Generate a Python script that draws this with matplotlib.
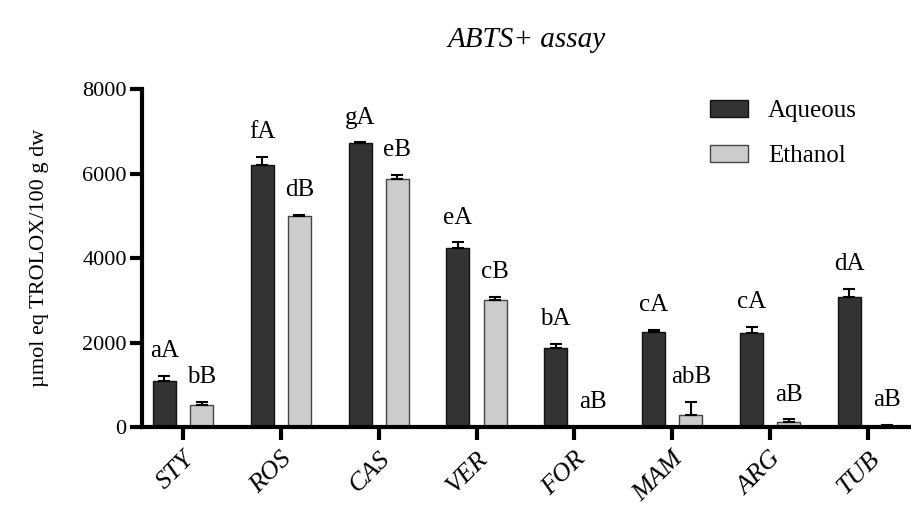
import matplotlib
matplotlib.use("Agg")
import matplotlib.pyplot as plt
import numpy as np

categories = ["STY", "ROS", "CAS", "VER", "FOR", "MAM", "ARG", "TUB"]
aqueous = [1100, 6200, 6720, 4250, 1860, 2240, 2220, 3080]
aqueous_err = [110, 200, 20, 120, 100, 60, 150, 190]
ethanol = [530, 5000, 5870, 3000, 0, 280, 120, 30]
ethanol_err = [65, 30, 100, 80, 0, 320, 60, 20]
aq_letters = ["aA", "fA", "gA", "eA", "bA", "cA", "cA", "dA"]
et_letters = ["bB", "dB", "eB", "cB", "aB", "abB", "aB", "aB"]
yticks = [0, 2000, 4000, 6000, 8000]

plt.rcParams['font.family'] = ['Liberation Serif', 'DejaVu Serif']

fig = plt.figure(figsize=(9.12, 5.11), dpi=100)
ax = fig.add_axes([0.1557, 0.1644, 0.8443, 0.661])

x = np.arange(len(categories))
w = 0.235
off = 0.19
ekw = dict(ecolor="black", elinewidth=1.5, capsize=4, capthick=1.5)
ax.bar(x - off, aqueous, w, color="#333333", edgecolor="#111111", linewidth=1.0,
       yerr=[np.zeros(len(x)), aqueous_err], error_kw=ekw, label="Aqueous", zorder=2)
ax.bar(x + off, ethanol, w, color="#cccccc", edgecolor="#444444", linewidth=1.0,
       yerr=[np.zeros(len(x)), ethanol_err], error_kw=ekw, label="Ethanol", zorder=2)

for i in range(len(x)):
    ax.annotate(aq_letters[i], (x[i] - off, aqueous[i] + aqueous_err[i]), xytext=(0, 10),
                textcoords="offset points", ha="center", va="bottom", fontsize=18)
    ax.annotate(et_letters[i], (x[i] + off, ethanol[i] + ethanol_err[i]), xytext=(0, 10),
                textcoords="offset points", ha="center", va="bottom", fontsize=18)

ax.set_xlim(-0.418, 7.45)
ax.set_ylim(0, 8000)
ax.set_yticks(yticks)
ax.set_yticklabels([str(v) for v in yticks], fontsize=16)
ax.set_xticks(x)
ax.set_xticklabels(categories, rotation=45, ha="right", rotation_mode="anchor",
                   fontsize=19, style="italic")
for s in ["top", "right"]:
    ax.spines[s].set_visible(False)
for s in ["left", "bottom"]:
    ax.spines[s].set_linewidth(3)
ax.tick_params(axis="both", width=3, length=9, direction="out")
ax.tick_params(axis="x", pad=6)
ax.tick_params(axis="y", pad=2)
ax.set_ylabel("µmol eq TROLOX/100 g dw", fontsize=16, labelpad=24)

fig.text(527 / 912, 1 - 40 / 511, "ABTS+ assay", fontsize=21, style="italic", ha="center", va="center")

leg = ax.legend(loc="upper left", bbox_to_anchor=(710 / 912, 1 - 100 / 511),
                bbox_transform=fig.transFigure, frameon=False, fontsize=18,
                handlelength=1.52, handleheight=0.68, labelspacing=0.9, handletextpad=0.8,
                borderaxespad=0, borderpad=0)

fig.savefig("out.png", dpi=100)
